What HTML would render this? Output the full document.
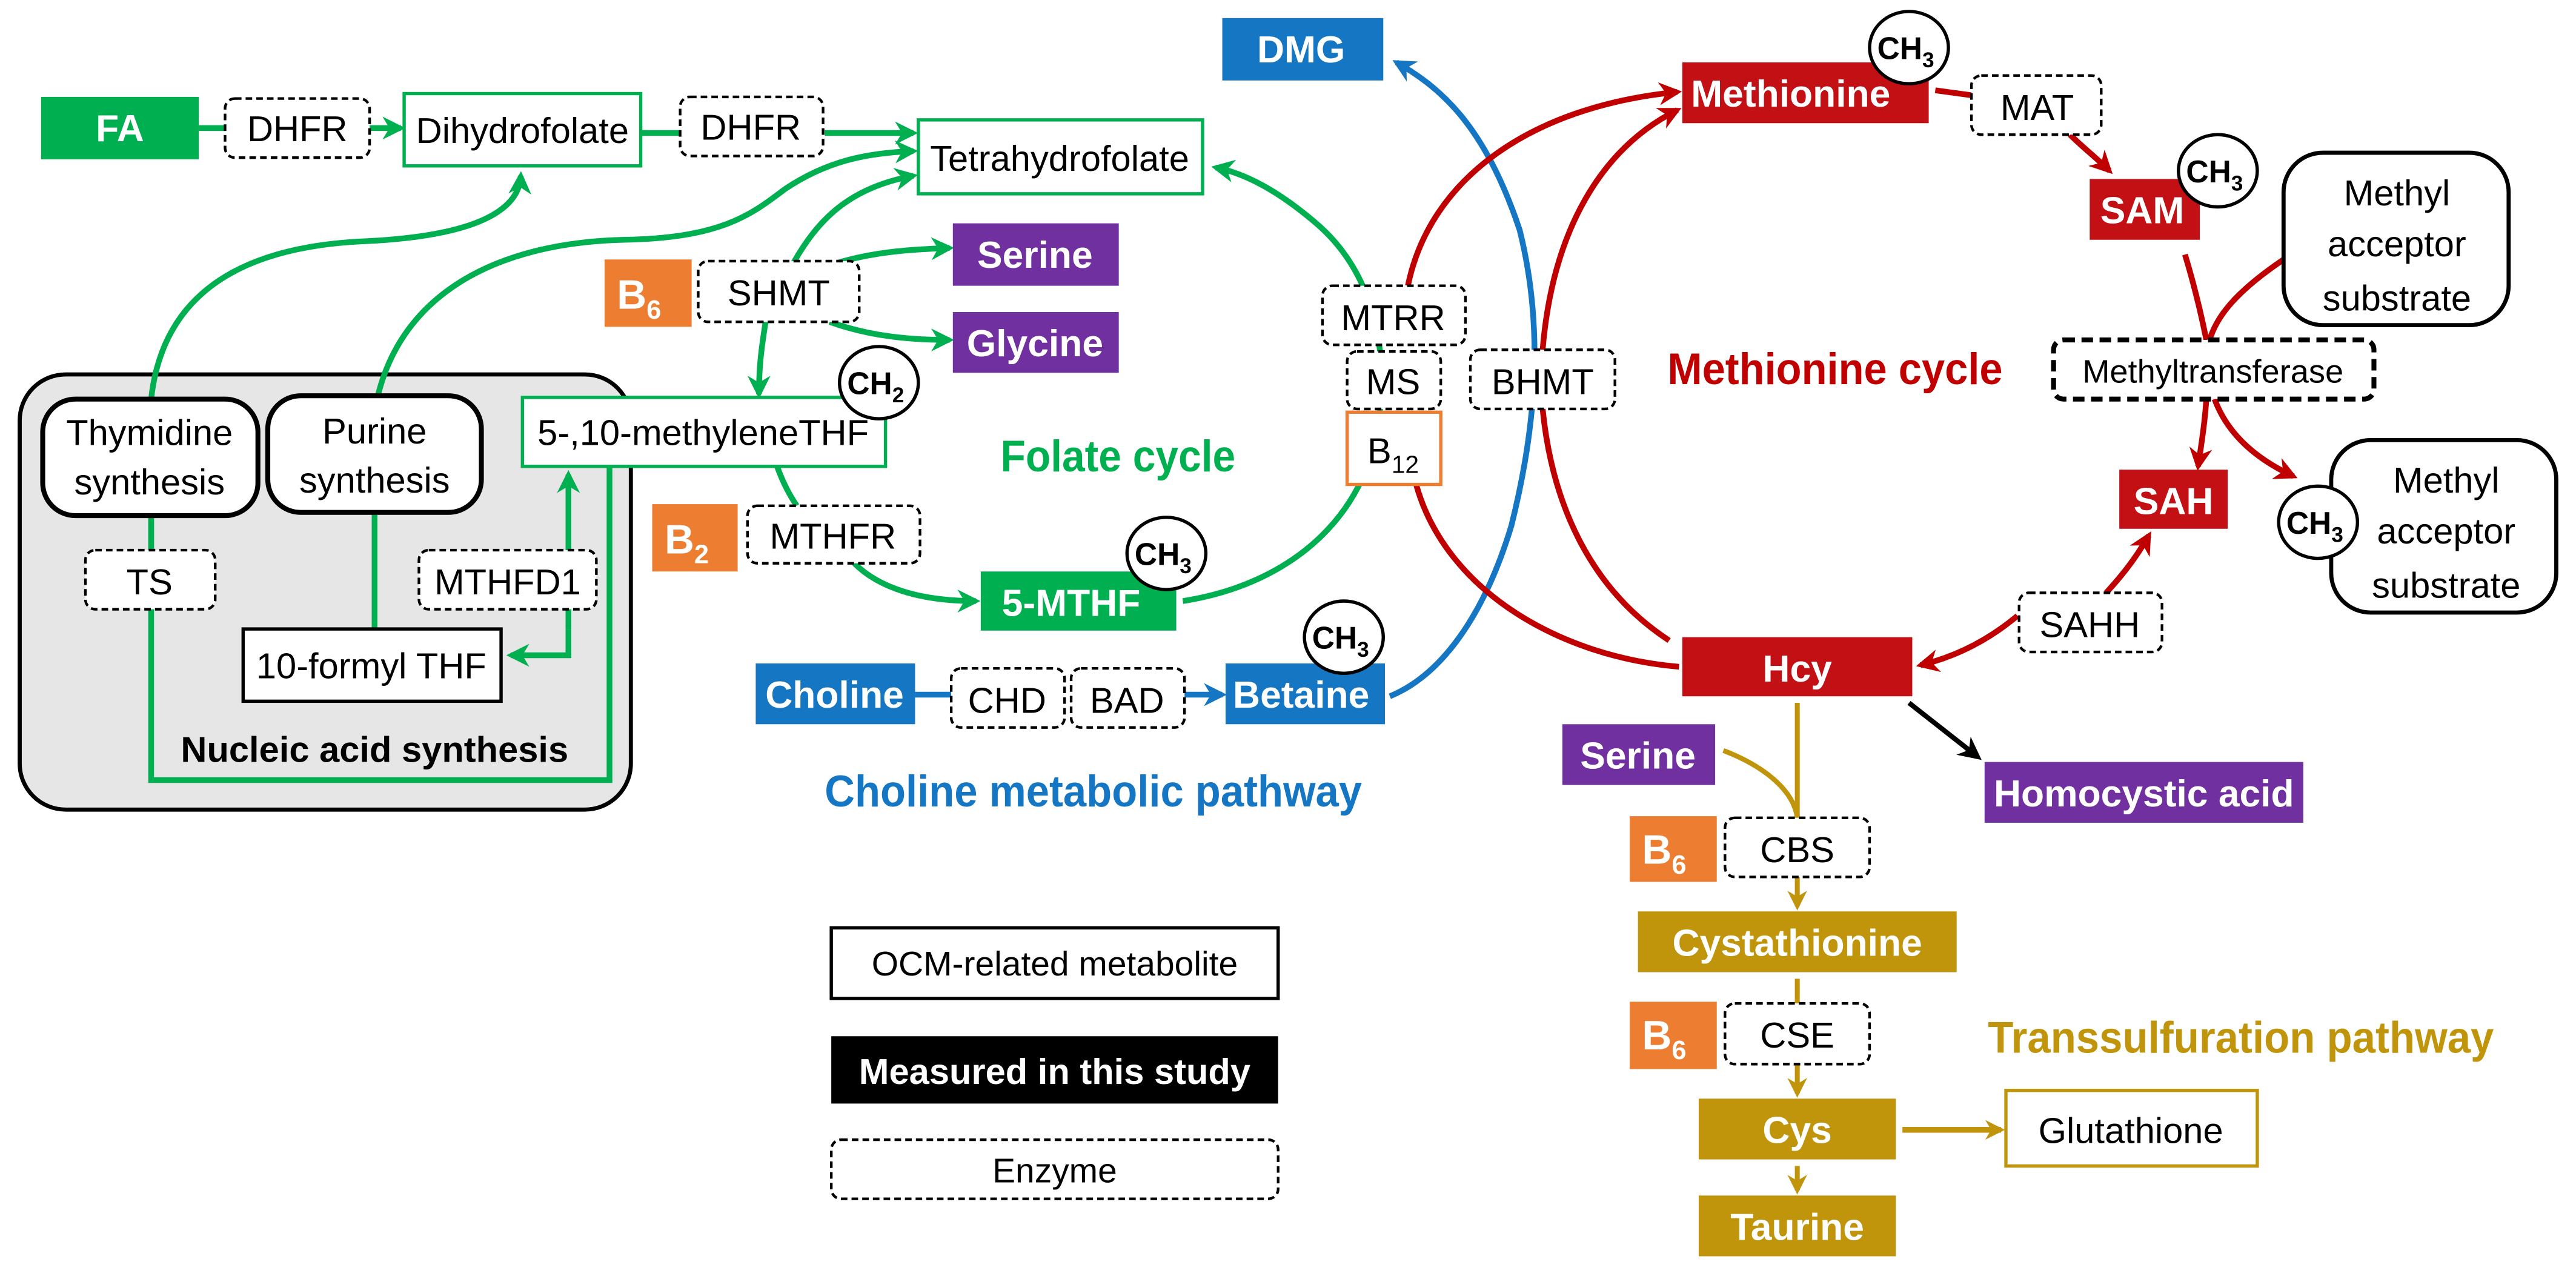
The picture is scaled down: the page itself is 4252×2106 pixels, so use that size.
<!DOCTYPE html>
<html><head><meta charset="utf-8"><style>
html,body{margin:0;padding:0;background:#fff;}
svg{display:block;}
text{font-family:"Liberation Sans Narrow","Liberation Sans",Arial,sans-serif;}
</style></head><body>
<svg width="4252" height="2106" viewBox="0 0 1568 777" preserveAspectRatio="none" xmlns="http://www.w3.org/2000/svg">
<defs>
<marker id="ag" markerUnits="userSpaceOnUse" markerWidth="14" markerHeight="14" viewBox="0 0 10 10" refX="8" refY="5" orient="auto"><path d="M0,0 L10,5 L0,10 L3,5z" fill="#00b050"/></marker>
<marker id="ar" markerUnits="userSpaceOnUse" markerWidth="14" markerHeight="14" viewBox="0 0 10 10" refX="8" refY="5" orient="auto"><path d="M0,0 L10,5 L0,10 L3,5z" fill="#c00000"/></marker>
<marker id="ab" markerUnits="userSpaceOnUse" markerWidth="14" markerHeight="14" viewBox="0 0 10 10" refX="8" refY="5" orient="auto"><path d="M0,0 L10,5 L0,10 L3,5z" fill="#1577c3"/></marker>
<marker id="ay" markerUnits="userSpaceOnUse" markerWidth="12" markerHeight="12" viewBox="0 0 10 10" refX="8" refY="5" orient="auto"><path d="M0,0 L10,5 L0,10 L3,5z" fill="#c0950c"/></marker>
<marker id="ak" markerUnits="userSpaceOnUse" markerWidth="14" markerHeight="14" viewBox="0 0 10 10" refX="8" refY="5" orient="auto"><path d="M0,0 L10,5 L0,10 L3,5z" fill="#000"/></marker>
</defs>

<!-- Nucleic acid gray box -->
<rect x="12" y="228" width="372" height="265" rx="28" fill="#e6e6e6" stroke="#000" stroke-width="2.5"/>

<g fill="none" stroke-width="3.5">
<!-- green connectors -->
<g stroke="#00b050">
<line x1="121" y1="78" x2="137" y2="78"/>
<line x1="225" y1="78" x2="244" y2="78" marker-end="url(#ag)"/>
<line x1="390" y1="81" x2="414" y2="81"/>
<line x1="502" y1="81" x2="556" y2="81" marker-end="url(#ag)"/>
<path d="M92,243 C100,170 160,150 220,147 C290,144 316,128 317,107" marker-end="url(#ag)"/>
<path d="M230,241 C245,180 300,148 380,146 C440,145 458,130 478,115 C505,97 530,93 556,92" marker-end="url(#ag)"/>
<path d="M483,160 C500,130 520,114 556,107" marker-end="url(#ag)"/>
<path d="M510,160 C530,154 550,152 578,151" marker-end="url(#ag)"/>
<path d="M505,196 C530,205 555,207 578,207" marker-end="url(#ag)"/>
<path d="M466,196 C463,215 462,225 462,240" marker-end="url(#ag)"/>
<path d="M473,284 C477,295 481,302 485,308"/>
<path d="M520,343 C535,358 560,366 594,366" marker-end="url(#ag)"/>
<path d="M720,366 C790,355 835,310 840,250 C845,200 830,160 800,135 C780,118 760,106 740,102" marker-end="url(#ag)"/>
<path d="M92,314 V475 H371 V284"/>
<line x1="92" y1="243" x2="92" y2="335"/>
<line x1="228" y1="312" x2="228" y2="383"/>
<path d="M346,383 V399 H311" marker-end="url(#ag)"/>
<path d="M346,383 V289" marker-end="url(#ag)"/>
</g>
<!-- blue -->
<g stroke="#1577c3">
<line x1="557" y1="423" x2="579" y2="423"/>
<line x1="721" y1="423" x2="744" y2="423" marker-end="url(#ab)"/>
<path d="M846,424 C880,410 905,370 920,320 C935,260 940,200 925,140 C905,80 880,55 850,38" marker-end="url(#ab)"/>
</g>
<!-- red -->
<g stroke="#c00000">
<path d="M1022,406 C950,400 880,360 862,295"/>
<path d="M857,174 C870,110 930,65 1021,56" marker-end="url(#ar)"/>
<path d="M939,213 C945,140 975,90 1021,67" marker-end="url(#ar)"/>
<path d="M939,249 C945,310 970,360 1016,390"/>
<path d="M1178,55 L1200,58"/>
<path d="M1260,82 C1268,90 1276,96 1284,104" marker-end="url(#ar)"/>
<path d="M1330,155 C1336,175 1340,192 1343,207"/>
<path d="M1390,158 C1365,175 1350,190 1345,207"/>
<path d="M1343,243 C1342,258 1340,270 1338,284" marker-end="url(#ar)"/>
<path d="M1348,243 C1355,262 1370,278 1396,290" marker-end="url(#ar)"/>
<path d="M1282,361 C1292,350 1300,340 1308,326" marker-end="url(#ar)"/>
<path d="M1228,375 C1210,390 1190,400 1169,405" marker-end="url(#ar)"/>
</g>
<!-- gold -->
<g stroke="#c0950c" stroke-width="3">
<line x1="1094" y1="428" x2="1094" y2="498"/>
<path d="M1049,457 C1075,467 1092,482 1094,498"/>
<line x1="1094" y1="534" x2="1094" y2="552" marker-end="url(#ay)"/>
<line x1="1094" y1="596" x2="1094" y2="611"/>
<line x1="1094" y1="648" x2="1094" y2="666" marker-end="url(#ay)"/>
<line x1="1094" y1="710" x2="1094" y2="725" marker-end="url(#ay)"/>
<line x1="1158" y1="688" x2="1218" y2="688" stroke-width="3.5" marker-end="url(#ay)"/>
</g>
<line x1="1162" y1="428" x2="1204" y2="461" stroke="#000" stroke-width="3" marker-end="url(#ak)"/>
</g>

<!-- solid filled boxes -->
<g font-weight="bold" fill="#fff" text-anchor="middle" font-size="23">
<rect x="25" y="59" width="96" height="38" fill="#00b050"/><text x="73" y="86">FA</text>
<rect x="368" y="158" width="53" height="41" fill="#ed7d31"/><text x="389" y="188" font-size="25">B<tspan font-size="16" dy="6">6</tspan></text>
<rect x="397" y="307" width="52" height="41" fill="#ed7d31"/><text x="418" y="337" font-size="25">B<tspan font-size="16" dy="6">2</tspan></text>
<rect x="580" y="136" width="101" height="38" fill="#7030a0"/><text x="630" y="163">Serine</text>
<rect x="580" y="190" width="101" height="37" fill="#7030a0"/><text x="630" y="217">Glycine</text>
<rect x="597" y="348" width="119" height="36" fill="#00b050"/><text x="652" y="375">5-MTHF</text>
<rect x="744" y="11" width="98" height="38" fill="#1577c3"/><text x="792" y="38">DMG</text>
<rect x="460" y="404" width="97" height="37" fill="#1577c3"/><text x="508" y="431">Choline</text>
<rect x="746" y="404" width="97" height="37" fill="#1577c3"/><text x="792" y="431">Betaine</text>
<rect x="1024" y="38" width="150" height="37" fill="#c21015"/><text x="1090" y="65">Methionine</text>
<rect x="1272" y="109" width="67" height="37" fill="#c21015"/><text x="1304" y="136">SAM</text>
<rect x="1290" y="286" width="66" height="36" fill="#c21015"/><text x="1323" y="313">SAH</text>
<rect x="1024" y="388" width="140" height="36" fill="#c21015"/><text x="1094" y="415">Hcy</text>
<rect x="951" y="441" width="93" height="37" fill="#7030a0"/><text x="997" y="468">Serine</text>
<rect x="1208" y="464" width="194" height="37" fill="#7030a0"/><text x="1305" y="491">Homocystic acid</text>
<rect x="992" y="497" width="53" height="40" fill="#ed7d31"/><text x="1013" y="526" font-size="25">B<tspan font-size="16" dy="6">6</tspan></text>
<rect x="992" y="610" width="53" height="41" fill="#ed7d31"/><text x="1013" y="639" font-size="25">B<tspan font-size="16" dy="6">6</tspan></text>
<rect x="997" y="555" width="194" height="37" fill="#c0950c"/><text x="1094" y="582">Cystathionine</text>
<rect x="1034" y="669" width="120" height="37" fill="#c0950c"/><text x="1094" y="696">Cys</text>
<rect x="1034" y="728" width="120" height="37" fill="#c0950c"/><text x="1094" y="755">Taurine</text>
<rect x="506" y="631" width="272" height="41" fill="#000"/><text x="642" y="660" font-size="22">Measured in this study</text>
</g>

<!-- outlined boxes -->
<g fill="#fff" stroke-width="2">
<rect x="246" y="57" width="144" height="44" stroke="#00b050"/>
<rect x="559" y="73" width="173" height="45" stroke="#00b050"/>
<rect x="318" y="242" width="221" height="42" stroke="#00b050"/>
<rect x="148" y="383" width="157" height="44" stroke="#000"/>
<rect x="26" y="243" width="131" height="71" rx="20" stroke="#000" stroke-width="3"/>
<rect x="163" y="241" width="130" height="71" rx="20" stroke="#000" stroke-width="3"/>
<rect x="820" y="251" width="57" height="44" stroke="#ed7d31"/>
<rect x="1390" y="93" width="137" height="105" rx="24" stroke="#000" stroke-width="2.5"/>
<rect x="1419" y="268" width="137" height="105" rx="24" stroke="#000" stroke-width="2.5"/>
<rect x="1221" y="664" width="153" height="46" stroke="#c0950c"/>
<rect x="506" y="565" width="272" height="43" stroke="#000"/>
</g>
<!-- dashed enzymes -->
<g fill="#fff" stroke="#000" stroke-width="1.6" stroke-dasharray="4,2.5">
<rect x="137" y="60" width="88" height="36" rx="6"/>
<rect x="414" y="59" width="87" height="36" rx="6"/>
<rect x="425" y="159" width="98" height="37" rx="6"/>
<rect x="455" y="308" width="105" height="35" rx="6"/>
<rect x="52" y="335" width="79" height="36" rx="6"/>
<rect x="255" y="335" width="108" height="36" rx="6"/>
<rect x="579" y="407" width="69" height="36" rx="6"/>
<rect x="652" y="407" width="69" height="36" rx="6"/>
<rect x="805" y="174" width="87" height="36" rx="6"/>
<rect x="820" y="214" width="57" height="35" rx="6"/>
<rect x="895" y="213" width="88" height="36" rx="6"/>
<rect x="1200" y="46" width="79" height="36" rx="6"/>
<rect x="1250" y="207" width="195" height="36" rx="6" stroke-width="3" stroke-dasharray="7,4"/>
<rect x="1229" y="361" width="87" height="36" rx="6"/>
<rect x="1050" y="498" width="88" height="36" rx="6"/>
<rect x="1050" y="611" width="88" height="37" rx="6"/>
<rect x="506" y="694" width="272" height="36" rx="6"/>
</g>

<!-- black text -->
<g fill="#000" text-anchor="middle" font-size="22">
<text x="181" y="86">DHFR</text>
<text x="318" y="87">Dihydrofolate</text>
<text x="457" y="85">DHFR</text>
<text x="645" y="104">Tetrahydrofolate</text>
<text x="474" y="186">SHMT</text>
<text x="428" y="271">5-,10-methyleneTHF</text>
<text x="507" y="334">MTHFR</text>
<text x="91" y="271">Thymidine</text>
<text x="91" y="301">synthesis</text>
<text x="228" y="270">Purine</text>
<text x="228" y="300">synthesis</text>
<text x="91" y="362">TS</text>
<text x="309" y="362">MTHFD1</text>
<text x="226" y="413">10-formyl THF</text>
<text x="228" y="464" font-weight="bold">Nucleic acid synthesis</text>
<text x="613" y="434">CHD</text>
<text x="686" y="434">BAD</text>
<text x="848" y="201">MTRR</text>
<text x="848" y="240">MS</text>
<text x="848" y="282">B<tspan font-size="15" dy="6">12</tspan></text>
<text x="939" y="240">BHMT</text>
<text x="1240" y="73">MAT</text>
<text x="1347" y="233" font-size="20">Methyltransferase</text>
<text x="1272" y="388">SAHH</text>
<text x="1094" y="525">CBS</text>
<text x="1094" y="638">CSE</text>
<text x="1297" y="696">Glutathione</text>
<text x="642" y="594" font-size="21">OCM-related metabolite</text>
<text x="642" y="720" font-size="21">Enzyme</text>
<text x="1459" y="125">Methyl</text>
<text x="1459" y="156">acceptor</text>
<text x="1459" y="189">substrate</text>
<text x="1489" y="300">Methyl</text>
<text x="1489" y="331">acceptor</text>
<text x="1489" y="364">substrate</text>
</g>

<!-- CH circles -->
<g fill="#fff" stroke="#000" stroke-width="2">
<ellipse cx="535" cy="233" rx="24" ry="22"/>
<ellipse cx="710" cy="337" rx="24" ry="22"/>
<ellipse cx="1162" cy="29" rx="24" ry="22"/>
<ellipse cx="1350" cy="104" rx="24" ry="22"/>
<ellipse cx="1411" cy="318" rx="24" ry="22"/>
<ellipse cx="818" cy="388" rx="24" ry="22"/>
</g>
<g fill="#000" font-weight="bold" font-size="19" text-anchor="middle">
<text x="533" y="240">CH<tspan font-size="13" dy="5">2</tspan></text>
<text x="708" y="344">CH<tspan font-size="13" dy="5">3</tspan></text>
<text x="1160" y="36">CH<tspan font-size="13" dy="5">3</tspan></text>
<text x="1348" y="111">CH<tspan font-size="13" dy="5">3</tspan></text>
<text x="1409" y="325">CH<tspan font-size="13" dy="5">3</tspan></text>
<text x="816" y="395">CH<tspan font-size="13" dy="5">3</tspan></text>
</g>

<!-- titles -->
<g font-weight="bold" font-size="27">
<text x="609" y="287" fill="#00b050" textLength="143" lengthAdjust="spacingAndGlyphs">Folate cycle</text>
<text x="1015" y="234" fill="#c00000" textLength="204" lengthAdjust="spacingAndGlyphs">Methionine cycle</text>
<text x="502" y="491" fill="#1577c3" textLength="327" lengthAdjust="spacingAndGlyphs">Choline metabolic pathway</text>
<text x="1210" y="641" fill="#c0950c" textLength="308" lengthAdjust="spacingAndGlyphs">Transsulfuration pathway</text>
</g>
</svg>
</body></html>
